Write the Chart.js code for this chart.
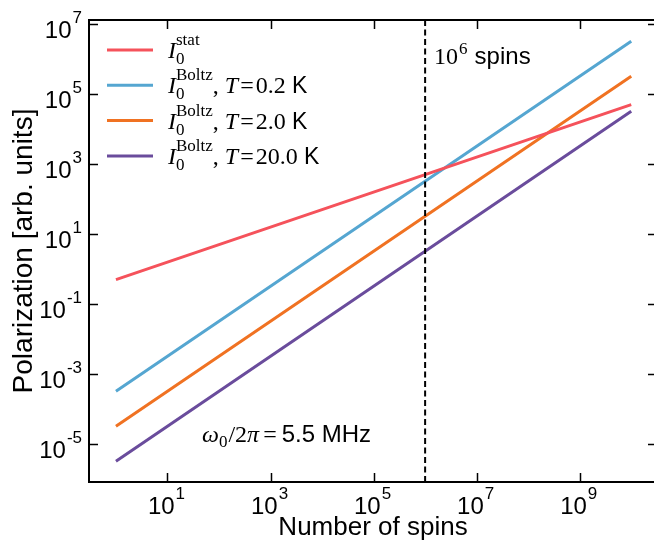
<!DOCTYPE html>
<html>
<head>
<meta charset="utf-8">
<script src="https://cdn.jsdelivr.net/npm/chart.js@4.4.0/dist/chart.umd.min.js"></script>
<style>
    html, body { margin: 0; padding: 0; background: #fff; overflow: hidden; }
    #wrap { position: relative; width: 670px; height: 543px; }
</style>
</head>
<body>
<div id="wrap"><canvas id="chart"></canvas></div>
<script>
// Values
const spinCounts = [1, 1e2, 1e4, 1e6, 1e8, 1e10];
const statValues = [0.49, 4.9, 49, 490, 4900, 49000];
const boltz02Values = [3.2e-4, 3.2e-2, 3.2, 320, 3.2e4, 3.2e6];
const boltz2Values = [3.2e-5, 3.2e-3, 0.32, 32, 3200, 3.2e5];
const boltz20Values = [3.2e-6, 3.2e-4, 0.032, 3.2, 320, 3.2e4];

// Legend text pieces
const seriesSuper = ['stat', 'Boltz', 'Boltz', 'Boltz'];
const seriesTemps = [null, '0.2', '2.0', '20.0'];

// Tick exponents (labelled every second decade)
const xTickExponents = [1, 3, 5, 7, 9];
const yTickExponents = [-5, -3, -1, 1, 3, 5, 7];
const markerSpins = 1e6;

const SANS = "'Liberation Sans', Arial, sans-serif";
const SERIF = "'Liberation Serif', 'DejaVu Serif', serif";

function toPoints(values) {
    return spinCounts.map((x, i) => ({ x: x, y: values[i] }));
}

// "10" with a raised exponent, like matplotlib's log tick labels
function drawPower(ctx, value, x, y, align) {
    const exp = String(Math.round(Math.log10(value)));
    const mainFont = '24px ' + SANS;
    const supFont = '17px ' + SANS;
    ctx.font = mainFont;
    const w1 = ctx.measureText('10').width;
    ctx.font = supFont;
    const w2 = ctx.measureText(exp).width;
    const total = w1 + 1 + w2;
    const x0 = align === 'right' ? x - total : x - total / 2;
    ctx.font = mainFont;
    ctx.fillText('10', x0, y);
    ctx.font = supFont;
    ctx.fillText(exp, x0 + w1 + 1, y - 15.5);
}

// Draw a run of text pieces left to right; "stack" pieces share the same x (sub + sup)
function drawRuns(ctx, x, y, runs) {
    runs.forEach(r => {
        if (r.stack) {
            let w = 0;
            r.stack.forEach(s => {
                ctx.font = s.font;
                ctx.fillText(s.text, x, y + s.dy);
                w = Math.max(w, ctx.measureText(s.text).width);
            });
            x += w;
        } else {
            const dx = r.dx || 0;
            ctx.font = r.font;
            ctx.fillText(r.text, x + dx, y + (r.dy || 0));
            x += dx + ctx.measureText(r.text).width + (r.after || 0);
        }
    });
    return x;
}

const decorPlugin = {
    id: 'decor',
    afterDatasetsDraw(chart) {
        const { ctx, chartArea, scales } = chart;

        // vertical dashed marker at 10^6 spins
        const mx = scales.x.getPixelForValue(markerSpins);
        ctx.save();
        ctx.strokeStyle = '#000';
        ctx.lineWidth = 2;
        ctx.setLineDash([6, 3.5]);
        ctx.beginPath();
        ctx.moveTo(mx, chartArea.top);
        ctx.lineTo(mx, chartArea.bottom);
        ctx.stroke();
        ctx.restore();
    },
    afterDraw(chart) {
        const { ctx, chartArea, scales } = chart;
        const xs = scales.x, ys = scales.y;
        const { left, right, top, bottom } = chartArea;

        ctx.save();
        // top and right spines
        ctx.strokeStyle = '#000';
        ctx.lineWidth = 2;
        ctx.beginPath();
        ctx.moveTo(left, top);
        ctx.lineTo(right, top);
        ctx.lineTo(right, bottom);
        ctx.stroke();

        // inward tick marks on all four sides
        const tl = 9;
        ctx.lineWidth = 1.5;
        ctx.beginPath();
        xs.ticks.forEach(t => {
            const px = Math.round(xs.getPixelForValue(t.value)) + 0.5;
            ctx.moveTo(px, bottom); ctx.lineTo(px, bottom - tl);
            ctx.moveTo(px, top); ctx.lineTo(px, top + tl);
        });
        ys.ticks.forEach(t => {
            const py = Math.round(ys.getPixelForValue(t.value)) + 0.5;
            ctx.moveTo(left, py); ctx.lineTo(left + tl, py);
            ctx.moveTo(right, py); ctx.lineTo(right - tl, py);
        });
        ctx.stroke();

        ctx.fillStyle = '#000';
        ctx.textBaseline = 'alphabetic';
        ctx.textAlign = 'left';

        // tick labels
        xs.ticks.forEach(t => {
            drawPower(ctx, t.value, xs.getPixelForValue(t.value) - 1, bottom + 32, 'center');
        });
        ys.ticks.forEach(t => {
            drawPower(ctx, t.value, left - 7, ys.getPixelForValue(t.value) + 14.5, 'right');
        });

        // legend
        const big = '24px ' + SERIF;
        const bigIt = 'italic 24px ' + SERIF;
        const small = '17px ' + SERIF;
        chart.data.datasets.forEach((ds, i) => {
            const base = 58 + i * 35.3;
            ctx.strokeStyle = ds.borderColor;
            ctx.lineWidth = 3;
            ctx.beginPath();
            ctx.moveTo(107, base - 8);
            ctx.lineTo(153, base - 8);
            ctx.stroke();

            const runs = [
                { text: 'I', font: bigIt },
                { stack: [{ text: '0', font: small, dy: 6 }, { text: seriesSuper[i], font: small, dy: -13 }] }
            ];
            if (seriesTemps[i]) {
                runs.push({ text: ',', font: big, after: 6 });
                runs.push({ text: 'T', font: bigIt });
                runs.push({ text: '=', font: big, dx: 2, after: 2 });
                runs.push({ text: seriesTemps[i], font: big });
                runs.push({ text: ' K', font: '23px ' + SANS });
            }
            drawRuns(ctx, 168, base, runs);
        });

        // "10^6 spins" note
        const mx = xs.getPixelForValue(markerSpins);
        drawRuns(ctx, mx + 9, 64, [
            { text: '10', font: big },
            { text: '6', font: small, dy: -10, dx: 1, after: 7 },
            { text: 'spins', font: '24px ' + SANS }
        ]);

        // frequency note
        drawRuns(ctx, 202, 442, [
            { text: '\u03C9', font: bigIt },
            { text: '0', font: small, dy: 5, after: 1 },
            { text: '/2', font: big },
            { text: '\u03C0', font: bigIt },
            { text: '=', font: big, dx: 4, after: 5 },
            { text: '5.5 MHz', font: '24px ' + SANS }
        ]);
        ctx.restore();
    }
};

const lineDataset = (label, values, color) => ({
    label: label,
    data: toPoints(values),
    borderColor: color,
    backgroundColor: color,
    borderWidth: 3,
    pointRadius: 0,
    tension: 0,
    fill: false
});

new Chart(document.getElementById('chart'), {
    type: 'line',
    data: {
        datasets: [
            lineDataset('I0 stat', statValues, '#f5525b'),
            lineDataset('I0 Boltz, T = 0.2 K', boltz02Values, '#55a6d1'),
            lineDataset('I0 Boltz, T = 2.0 K', boltz2Values, '#f07222'),
            lineDataset('I0 Boltz, T = 20.0 K', boltz20Values, '#6a4c9c')
        ]
    },
    options: {
        responsive: true,
        maintainAspectRatio: false,
        animation: false,
        layout: { padding: { top: 20, right: 13, left: 0, bottom: 0 } },
        plugins: {
            legend: { display: false },
            tooltip: { enabled: false }
        },
        scales: {
            x: {
                type: 'logarithmic',
                min: Math.pow(10, -0.5),
                max: Math.pow(10, 10.5),
                grid: { drawOnChartArea: false, drawTicks: false },
                border: { display: true, color: '#000', width: 2 },
                ticks: { display: false },
                title: {
                    display: true,
                    text: 'Number of spins',
                    color: '#000',
                    font: { family: SANS, size: 26 },
                    padding: { top: 0, bottom: 0 }
                },
                afterBuildTicks: s => { s.ticks = xTickExponents.map(e => ({ value: Math.pow(10, e) })); },
                afterFit: s => { s.height = 61; }
            },
            y: {
                type: 'logarithmic',
                min: Math.pow(10, -6.09),
                max: Math.pow(10, 7.11),
                grid: { drawOnChartArea: false, drawTicks: false },
                border: { display: true, color: '#000', width: 2 },
                ticks: { display: false },
                title: {
                    display: true,
                    text: 'Polarization [arb. units]',
                    color: '#000',
                    font: { family: SANS, size: 28 },
                    padding: { top: 7, bottom: 0 }
                },
                afterBuildTicks: s => { s.ticks = yTickExponents.map(e => ({ value: Math.pow(10, e) })); },
                afterFit: s => { s.width = 89; }
            }
        }
    },
    plugins: [decorPlugin]
});
</script>
</body>
</html>
